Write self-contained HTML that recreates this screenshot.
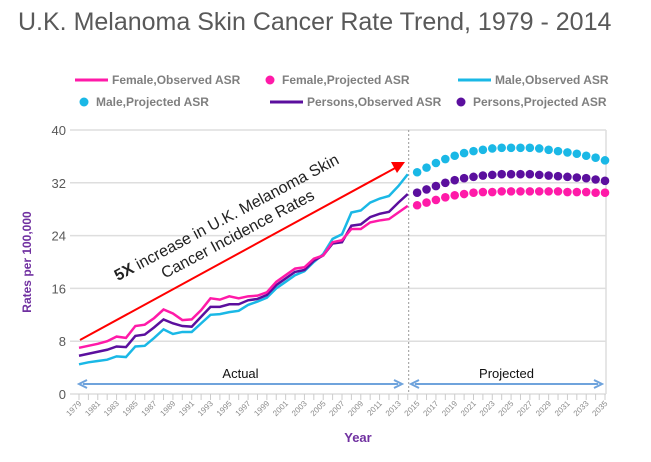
<!DOCTYPE html>
<html><head><meta charset="utf-8"><style>
body{margin:0;background:#fff;width:651px;height:457px;overflow:hidden;font-family:"Liberation Sans",sans-serif}
</style></head><body>
<svg id="c" width="651" height="457" xmlns="http://www.w3.org/2000/svg">
<text x="18" y="30" font-size="25" fill="#595959">U.K. Melanoma Skin Cancer Rate Trend, 1979 - 2014</text>
<g id="legend" font-size="12" font-weight="bold" fill="#7f7f7f"></g>
<g id="grid"></g>
<g id="yt" font-size="13" fill="#595959" text-anchor="end"></g>
<g id="xt" font-size="8" fill="#8a8a8a"></g>
<g id="series"></g>
<text transform="translate(31,262) rotate(-90)" text-anchor="middle" font-size="12" font-weight="bold" fill="#7030a0">Rates per 100,000</text>
<text x="358" y="442" text-anchor="middle" font-size="13" font-weight="bold" fill="#7030a0">Year</text>
</svg>
<script>
const years=[];for(let y=1979;y<=2035;y++)years.push(y);
const obsYears=years.slice(0,36);
const projYears=years.slice(36);
const femaleObs=[7.0,7.3,7.6,8.0,8.7,8.5,10.3,10.5,11.5,12.8,12.2,11.2,11.3,12.7,14.5,14.3,14.8,14.5,14.8,14.9,15.4,17.0,18.0,19.0,19.2,20.5,21.0,23.0,23.3,25.0,25.0,26.0,26.3,26.5,27.5,28.5];
const personsObs=[5.8,6.1,6.4,6.7,7.2,7.1,8.8,9.0,10.1,11.3,10.7,10.3,10.2,11.7,13.2,13.2,13.6,13.6,14.2,14.4,15.0,16.5,17.5,18.5,18.8,20.2,21.0,22.8,23.0,25.5,25.7,26.8,27.3,27.6,29.0,30.3];
const maleObs=[4.5,4.8,5.0,5.2,5.7,5.6,7.2,7.3,8.5,9.8,9.1,9.4,9.4,10.7,12.0,12.1,12.4,12.6,13.5,14.0,14.6,16.0,17.0,18.0,18.6,20.0,21.2,23.5,24.2,27.5,27.8,29.0,29.6,30.0,31.5,33.3];
const maleProj=[33.6,34.3,35.0,35.6,36.1,36.5,36.8,37.0,37.2,37.3,37.3,37.3,37.3,37.2,37.0,36.8,36.6,36.4,36.1,35.8,35.4];
const personsProj=[30.5,31.0,31.5,32.0,32.4,32.7,32.9,33.1,33.2,33.3,33.3,33.3,33.3,33.2,33.1,33.0,32.9,32.8,32.7,32.5,32.3];
const femaleProj=[28.6,29.0,29.4,29.8,30.1,30.3,30.5,30.6,30.6,30.7,30.7,30.7,30.7,30.7,30.7,30.7,30.6,30.6,30.6,30.5,30.5];
const yTicks=[0,8,16,24,32,40];
const F='#ff1aa8',M='#1ab8e6',P='#5b0f9e';
const NS='http://www.w3.org/2000/svg';
const x=y=>79+(y-1979)*(526/56);
const yv=v=>394-v*6.6;
function mk(t,a,p){const e=document.createElementNS(NS,t);for(const k in a)e.setAttribute(k,a[k]);(p||document.getElementById('c')).appendChild(e);return e;}
const grid=document.getElementById('grid');
yTicks.forEach(t=>{const g=mk('line',{x1:70,x2:606,y1:yv(t),y2:yv(t),stroke:'#dedede','stroke-width':1.5},grid);


const l=mk('text',{x:66,y:yv(t)+5},document.getElementById('yt'));l.textContent=t;

});
mk('line',{x1:606,x2:606,y1:yv(40),y2:yv(0),stroke:'#dedede','stroke-width':1.5},grid);
mk('line',{x1:x(2014.1),x2:x(2014.1),y1:yv(40),y2:yv(0),stroke:'#999','stroke-width':1,'stroke-dasharray':'2,2'},grid);
years.forEach((yr,i)=>{mk('line',{x1:x(yr),x2:x(yr),y1:394,y2:400,stroke:'#ccc'},grid);
if(i%2===0){const t=mk('text',{transform:`translate(${x(yr)+3},404) rotate(-45)`,'text-anchor':'end'},document.getElementById('xt'));t.textContent=yr;

}});
const S=document.getElementById('series');
function line(xs,vals,col,name){const p=mk('polyline',{points:vals.map((v,i)=>x(xs[i])+','+yv(v)).join(' '),fill:'none',stroke:col,'stroke-width':2.5},S);

}
function dots(xs,vals,col,name){const g=mk('g',{},S);


vals.forEach((v,i)=>mk('circle',{cx:x(xs[i]),cy:yv(v),r:4.3,fill:col},g));}
line(obsYears,maleObs,M,'male-observed-line');
line(obsYears,personsObs,P,'persons-observed-line');
line(obsYears,femaleObs,F,'female-observed-line');
dots(projYears,maleProj,M,'male-projected-dots');
dots(projYears,personsProj,P,'persons-projected-dots');
dots(projYears,femaleProj,F,'female-projected-dots');
const ar=mk('g',{});


mk('line',{x1:80,y1:340,x2:397,y2:167,stroke:'#f00','stroke-width':2},ar);
mk('polygon',{points:'405,162 391,162 397,173',fill:'#f00'},ar);
const at=mk('text',{transform:'translate(229,222) rotate(-28)','text-anchor':'middle','font-size':16,fill:'#222'});


at.innerHTML='<tspan x="0" dy="0"><tspan font-weight="bold">5X</tspan> increase in U.K. Melanoma Skin</tspan><tspan x="2" dy="20">Cancer Incidence Rates</tspan>';
function harrow(x1,x2,yy,label,name){const g=mk('g',{});


mk('line',{x1:x1+4,x2:x2-4,y1:yy,y2:yy,stroke:'#6fa3dc','stroke-width':2},g);
mk('polyline',{points:`${x1+8},${yy-4} ${x1},${yy} ${x1+8},${yy+4}`,fill:'none',stroke:'#6fa3dc','stroke-width':2},g);
mk('polyline',{points:`${x2-8},${yy-4} ${x2},${yy} ${x2-8},${yy+4}`,fill:'none',stroke:'#6fa3dc','stroke-width':2},g);
const t=mk('text',{x:(x1+x2)/2,y:yy-6,'text-anchor':'middle','font-size':13,fill:'#111'},g);t.textContent=label;}
harrow(79,402,384,'Actual','actual-range');
harrow(411,602,384,'Projected','projected-range');
const L=document.getElementById('legend');
const items=[[75,80,'l',F,'Female,Observed ASR'],[266,80,'d',F,'Female,Projected ASR'],[458,80,'l',M,'Male,Observed ASR'],
[80,102,'d',M,'Male,Projected ASR'],[270,102,'l',P,'Persons,Observed ASR'],[457,102,'d',P,'Persons,Projected ASR']];
items.forEach(it=>{const g=mk('g',{},L);


let tx;
if(it[2]==='l'){mk('line',{x1:it[0],x2:it[0]+33,y1:it[1],y2:it[1],stroke:it[3],'stroke-width':3},g);tx=it[0]+37;}
else{mk('circle',{cx:it[0]+4,cy:it[1],r:4.5,fill:it[3]},g);tx=it[0]+16;}
const t=mk('text',{x:tx,y:it[1]+4},g);t.textContent=it[4];});
</script>
</body></html>
